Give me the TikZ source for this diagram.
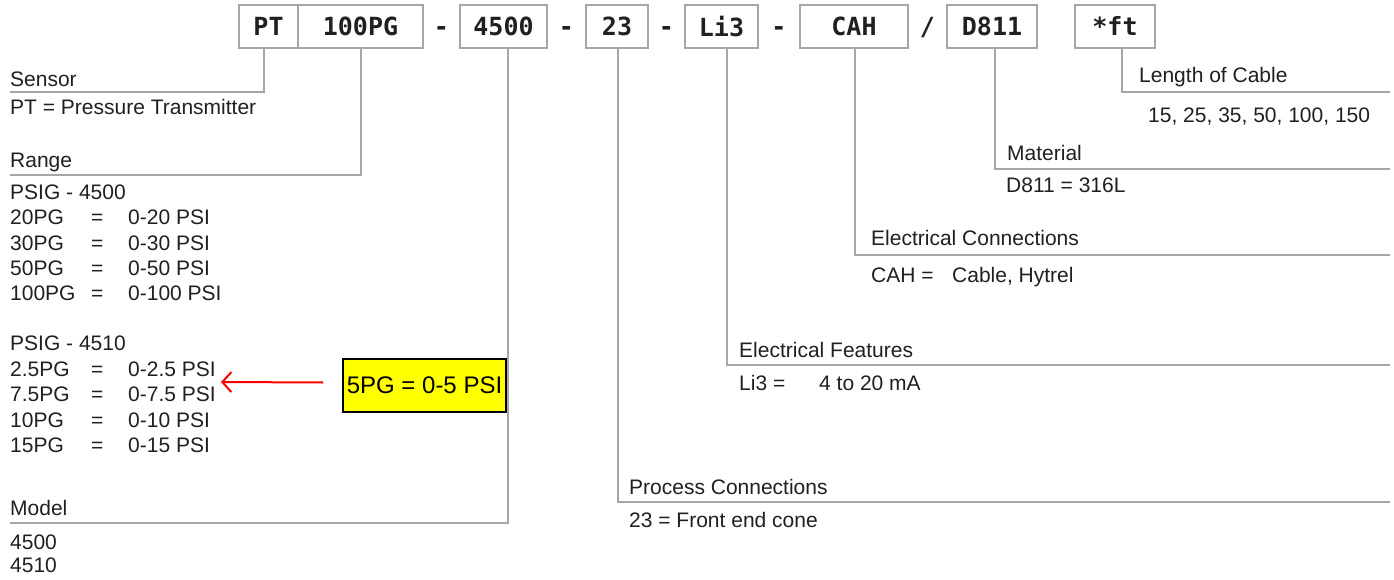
\documentclass[tikz,border=0pt]{standalone}
\usepackage{fontspec}
\setmainfont{Liberation Sans}
\newfontfamily\codefont{DejaVu Sans Mono}
\usetikzlibrary{arrows.meta}
\definecolor{leadgray}{HTML}{A5A6A8}
\definecolor{txt}{HTML}{231F20}
\definecolor{noteyellow}{HTML}{FFFF00}
\begin{document}
\begin{tikzpicture}[x=1pt,y=-1pt,
  codebox/.style={draw=leadgray,line width=2pt,inner sep=0pt,outer sep=0pt,minimum height=43pt,
    font=\codefont\bfseries\fontsize{25}{25}\selectfont,text=txt},
  sepmark/.style={inner sep=0pt,text height=18pt,text depth=0pt,font=\codefont\bfseries\fontsize{25}{25}\selectfont,text=txt},
  lbl/.style={anchor=base west,inner sep=0pt,font=\fontsize{21}{25}\selectfont,text=txt},
  lead/.style={draw=leadgray,line width=2pt},
  redarrow/.style={draw=red,line width=2pt,-{Straight Barb[length=9pt,width=20pt]}}]
\useasboundingbox[fill=white] (0,0) rectangle (1394,580);

% code boxes
\node[codebox,minimum width=59pt] (pt) at (268.5,26.5) {PT};
\node[codebox,minimum width=125pt] (pg) at (360.5,26.5) {100PG};
\node[sepmark] (s1) at (441.5,26.5) {-};
\node[codebox,minimum width=87pt] (mo) at (503.5,26.5) {4500};
\node[sepmark] (s2) at (566.5,26.5) {-};
\node[codebox,minimum width=62pt] (pc) at (617,26.5) {23};
\node[sepmark] (s3) at (666.5,26.5) {-};
\node[codebox,minimum width=73pt] (li) at (721.5,26.5) {Li3};
\node[sepmark] (s4) at (779,26.5) {-};
\node[codebox,minimum width=108pt] (cah) at (854,26.5) {CAH};
\node[sepmark] (s5) at (927.5,26.5) {/};
\node[codebox,minimum width=90pt] (dm) at (992,26.5) {D811};
\node[codebox,minimum width=80pt] (ft) at (1115,26.5) {*ft};

% lead line ends
\coordinate (sensorL) at (10,92);
\coordinate (rangeL) at (10,175);
\coordinate (modelL) at (10,523);
\coordinate (pcR) at (1390,502);
\coordinate (efR) at (1390,365);
\coordinate (ecR) at (1390,255);
\coordinate (matR) at (1390,169);
\coordinate (lenR) at (1390,92);

% yellow note (drawn before the lead line)
\node[draw=black,line width=2pt,fill=noteyellow,minimum width=163pt,minimum height=53pt,inner sep=0pt,
  font=\fontsize{24}{24}\selectfont] (note) at (424.5,385.5) {5PG = 0-5 PSI};

\draw[lead] ([xshift=-5pt]pt.south) |- (sensorL);
\draw[lead] (pg.south) |- (rangeL);
\draw[lead] ([xshift=4.5pt]mo.south) |- (modelL);
\draw[lead] ([xshift=1pt]pc.south) |- (pcR);
\draw[lead] ([xshift=5.5pt]li.south) |- (efR);
\draw[lead] ([xshift=1pt]cah.south) |- (ecR);
\draw[lead] ([xshift=3pt]dm.south) |- (matR);
\draw[lead] ([xshift=7pt]ft.south) |- (lenR);

% left labels
\node[lbl] (sensor) at (10,87) {Sensor};
\node[lbl] (sensorv) at (10,115) {PT = Pressure Transmitter};
\node[lbl] (range) at (10,168) {Range};
\node[lbl] (psa) at (10,199.5) {PSIG - 4500};
\node[lbl] (ra1) at (10,224.8) {20PG};  \node[lbl] (ea1) at (91,224.8) {=}; \node[lbl] (va1) at (128,224.8) {0-20 PSI};
\node[lbl] (ra2) at (10,250.1) {30PG};  \node[lbl] (ea2) at (91,250.1) {=}; \node[lbl] (va2) at (128,250.1) {0-30 PSI};
\node[lbl] (ra3) at (10,275.4) {50PG};  \node[lbl] (ea3) at (91,275.4) {=}; \node[lbl] (va3) at (128,275.4) {0-50 PSI};
\node[lbl] (ra4) at (10,300.7) {100PG}; \node[lbl] (ea4) at (91,300.7) {=}; \node[lbl] (va4) at (128,300.7) {0-100 PSI};
\node[lbl] (psb) at (10,350.5) {PSIG - 4510};
\node[lbl] (rb1) at (10,376) {2.5PG};  \node[lbl] (eb1) at (91,376) {=}; \node[lbl] (vb1) at (128,376) {0-2.5 PSI};
\node[lbl] (rb2) at (10,401.5) {7.5PG}; \node[lbl] (eb2) at (91,401.5) {=}; \node[lbl] (vb2) at (128,401.5) {0-7.5 PSI};
\node[lbl] (rb3) at (10,427) {10PG};  \node[lbl] (eb3) at (91,427) {=}; \node[lbl] (vb3) at (128,427) {0-10 PSI};
\node[lbl] (rb4) at (10,452.5) {15PG}; \node[lbl] (eb4) at (91,452.5) {=}; \node[lbl] (vb4) at (128,452.5) {0-15 PSI};
\node[lbl] (model) at (10,515.5) {Model};
\node[lbl] (m1) at (10,549.5) {4500};
\node[lbl] (m2) at (10,572.5) {4510};

% right labels
\node[lbl] (proc) at (629,494.5) {Process Connections};
\node[lbl] (procv) at (629,527.5) {23 = Front end cone};
\node[lbl] (ef) at (739,357.5) {Electrical Features};
\node[lbl] (efv) at (739,390.5) {Li3 =};
\node[lbl] (efw) at (819,390.5) {4 to 20 mA};
\node[lbl] (ec) at (871,245.5) {Electrical Connections};
\node[lbl] (ecv) at (871,282.5) {CAH =};
\node[lbl] (ecw) at (952,282.5) {Cable, Hytrel};
\node[lbl] (mat) at (1007,160.5) {Material};
\node[lbl] (matv) at (1006,192.5) {D811 = 316L};
\node[lbl] (len) at (1139,82.5) {Length of Cable};
\node[lbl] (lenv) at (1148,122.5) {15, 25, 35, 50, 100, 150};

% red arrow
\coordinate (tip) at (221,382);
\draw[redarrow] ([xshift=-19pt,yshift=3pt]note.west) -- (tip);
\end{tikzpicture}
\end{document}
